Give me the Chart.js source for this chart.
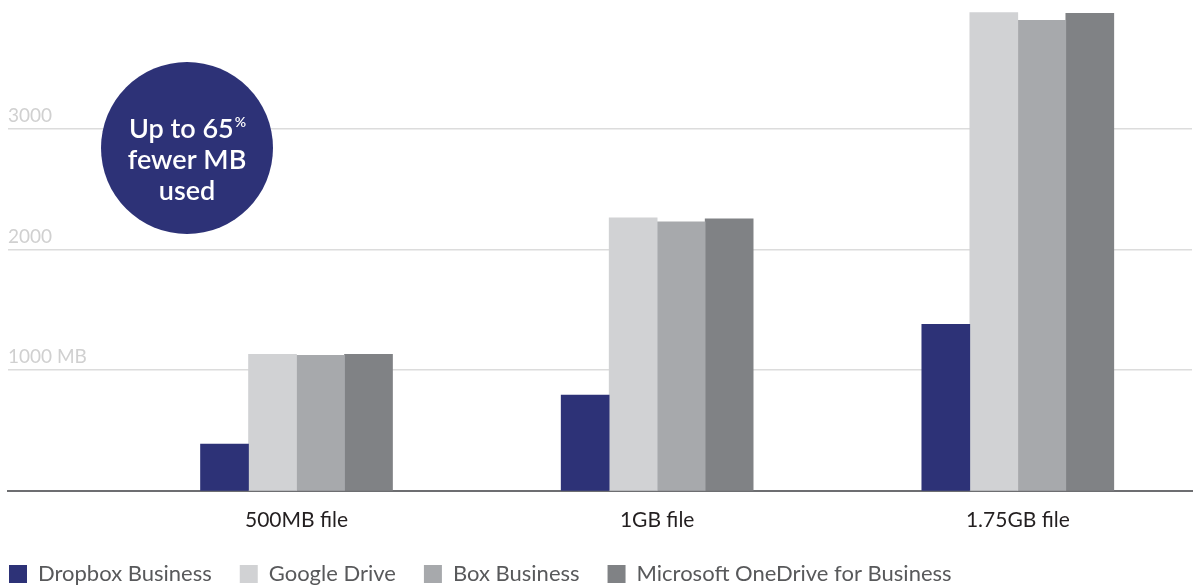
<!DOCTYPE html>
<html>
<head>
<meta charset="utf-8">
<script src="https://cdn.jsdelivr.net/npm/chart.js@4/dist/chart.umd.min.js"></script>
<style>
  html, body { margin: 0; padding: 0; background: #fff; }
  #wrap { width: 1194px; height: 585px; position: relative; }
</style>
</head>
<body>
<div id="wrap"><canvas id="mbChart"></canvas></div>
<script>
// Data
const categories = ['500MB file', '1GB file', '1.75GB file'];
const dropbox = [388, 793, 1380];
const googleDrive = [1132, 2264, 3967];
const boxBusiness = [1124, 2231, 3901];
const oneDrive = [1132, 2256, 3959];
const yTicks = [1000, 2000, 3000];
const yTickLabels = ['1000 MB', '2000', '3000'];

const toPoints = arr => arr.map((v, i) => ({ x: i, y: v }));
const FONT = 'Lato, "Noto Sans", sans-serif';

// Callout bubble
const bubble = {
    id: 'bubble',
    afterDraw(chart) {
        const ctx = chart.ctx;
        ctx.save();
        ctx.fillStyle = '#2d3277';
        ctx.beginPath();
        ctx.arc(187, 148, 86, 0, Math.PI * 2);
        ctx.fill();
        ctx.fillStyle = '#fff';
        ctx.textBaseline = 'middle';
        const big = '600 27px ' + FONT, small = '600 14px ' + FONT;
        ctx.font = big;
        const main = 'Up to 65';
        const w1 = ctx.measureText(main).width;
        ctx.font = small;
        const w2 = ctx.measureText('%').width;
        const startX = 187 - (w1 + w2) / 2;
        ctx.textAlign = 'left';
        ctx.font = big;
        ctx.fillText(main, startX, 129);
        ctx.font = small;
        ctx.fillText('%', startX + w1 + 1, 122);
        ctx.font = big;
        ctx.textAlign = 'center';
        ctx.fillText('fewer MB', 187, 160);
        ctx.fillText('used', 187, 191);
        ctx.restore();
    }
};

// pull the legend row back to the left edge and up a little
const legendShift = {
    id: 'legendShift',
    afterLayout(chart) {
        chart.legend.left -= 27;
        chart.legend.top -= 7;
    }
};

new Chart(document.getElementById('mbChart').getContext('2d'), {
    type: 'bar',
    data: {
        datasets: [
            { label: 'Dropbox Business', data: toPoints(dropbox), backgroundColor: '#2d3277' },
            { label: 'Google Drive', data: toPoints(googleDrive), backgroundColor: '#d1d2d4' },
            { label: 'Box Business', data: toPoints(boxBusiness), backgroundColor: '#a7a9ac' },
            { label: 'Microsoft OneDrive for Business', data: toPoints(oneDrive), backgroundColor: '#808285' }
        ]
    },
    options: {
        responsive: true,
        maintainAspectRatio: false,
        animation: false,
        barThickness: 48,
        layout: { padding: { left: 8, right: 2, top: 0, bottom: -17 } },
        scales: {
            x: {
                type: 'linear',
                offset: false,
                min: -0.8,
                max: 2.483,
                afterBuildTicks: axis => { axis.ticks = categories.map((c, i) => ({ value: i })); },
                ticks: {
                    autoSkip: false,
                    maxRotation: 0,
                    callback: v => categories[v],
                    color: '#231f20',
                    font: { family: FONT, size: 21 },
                    padding: 9
                },
                grid: { display: false },
                border: { display: true, color: '#6d6e71', width: 2 }
            },
            y: {
                min: 0,
                max: 3976,
                afterBuildTicks: axis => { axis.ticks = yTicks.map(v => ({ value: v })); },
                ticks: {
                    mirror: true,
                    padding: 0,
                    labelOffset: -13,
                    callback: v => yTickLabels[yTicks.indexOf(v)],
                    color: '#d0d0d0',
                    font: { family: FONT, size: 19 }
                },
                grid: { color: '#dcdcdc', lineWidth: 1.5, drawTicks: false },
                border: { display: false }
            }
        },
        plugins: {
            legend: {
                position: 'bottom',
                align: 'start',
                labels: {
                    boxWidth: 18,
                    boxHeight: 18,
                    padding: 28,
                    color: '#58595b',
                    font: { family: FONT, size: 22 }
                }
            },
            tooltip: { enabled: false }
        }
    },
    plugins: [bubble, legendShift]
});
</script>
</body>
</html>
